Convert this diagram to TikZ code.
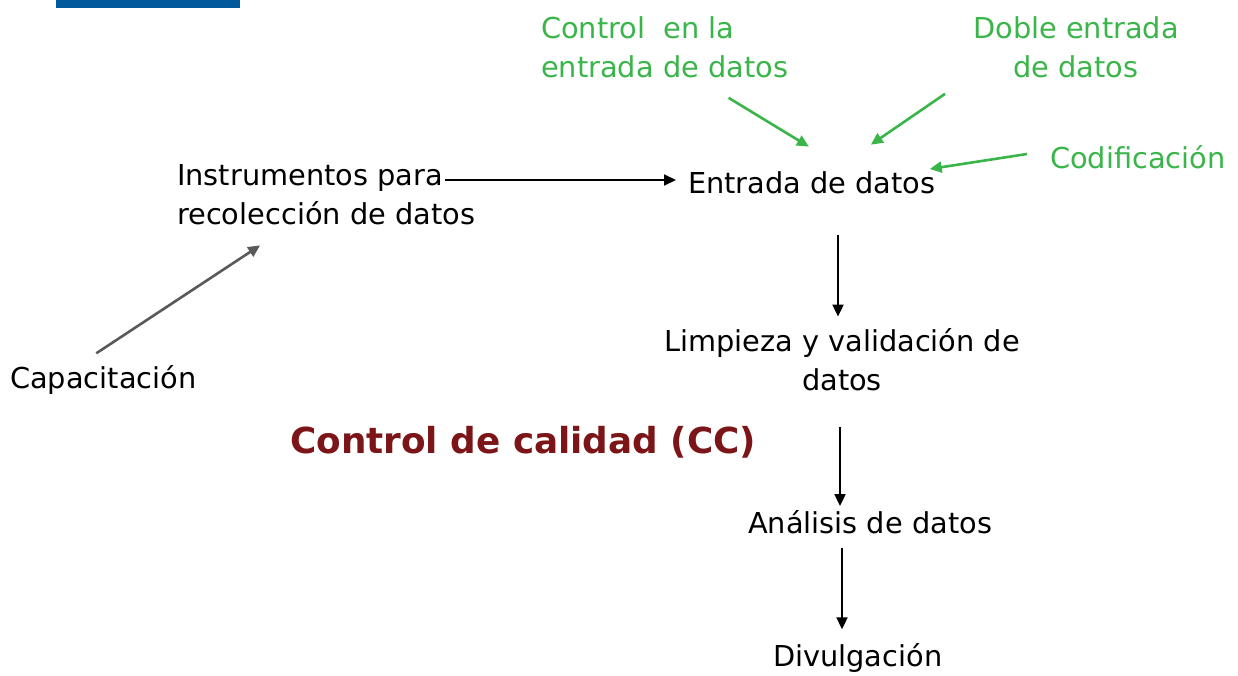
\documentclass[tikz,border=0pt]{standalone}
\usepackage{fontspec}
\setmainfont{DejaVu Sans}
\usepackage{tikz}
\usetikzlibrary{arrows.meta, calc}
\definecolor{qcink}{HTML}{000000}
\definecolor{qcgray}{HTML}{595959}
\definecolor{qcgreen}{HTML}{3AB54A}
\definecolor{qcred}{HTML}{7B1518}
\definecolor{qcblue}{HTML}{005A9C}
\tikzset{
  steplabel/.style={
    inner sep=0pt,
    text=qcink,
    font=\fontsize{28.8pt}{39pt}\selectfont
  },
  checklabel/.style={steplabel, text=qcgreen},
  titlelabel/.style={
    inner sep=0pt,
    text=qcred,
    font=\fontsize{35.8pt}{42pt}\selectfont\bfseries
  },
  flowarrow/.style={
    -{Triangle[length=12pt,width=11pt]},
    line width=2pt,
    draw=qcink
  },
  feedarrow/.style={
    -{Triangle[length=12pt,width=11pt]},
    line width=2.6pt,
    draw=qcgray
  },
  checkarrow/.style={
    -{Triangle[length=12pt,width=11pt]},
    line width=2.6pt,
    draw=qcgreen
  }
}

\begin{document}
\begin{tikzpicture}[x=1pt,y=-1pt]
\useasboundingbox (0,0) rectangle (1238,675);
\fill[qcblue] (56,0) rectangle (240,8);

\node[checklabel, align=left, anchor=west] (ctrl) at (541,47)
  {Control\ \ en la\\entrada de datos};
\node[checklabel, align=center] (doble) at (1076,47)
  {Doble entrada\\de datos};
\node[checklabel, anchor=west] (codif) at (1050,157) {Codificación};

\node[steplabel, anchor=west] (entrada) at (688,183) {Entrada de datos};
\node[steplabel, align=left, anchor=west] (instr) at (177,195)
  {Instrumentos para\\recolección de datos};
\node[steplabel, anchor=west] (capac) at (10,380) {Capacitación};
\node[steplabel, align=center] (limpieza) at (842,360)
  {Limpieza y validación de\\datos};
\node[titlelabel, anchor=west] (cc) at (290,442) {Control de calidad (CC)};
\node[steplabel, anchor=west] (analisis) at (748,522) {Análisis de datos};
\node[steplabel, anchor=west] (divulg) at (773,658) {Divulgación};

\coordinate (instrend) at (445,180);

\draw[flowarrow, shorten >=12pt] (instrend) -- (entrada.west |- instrend);
\draw[flowarrow, shorten <=41pt, shorten >=12pt]
  ([xshift=-4pt]entrada.south -| limpieza.north) -- ([xshift=-4pt]limpieza.north);
\draw[flowarrow, shorten <=36pt, shorten >=4pt]
  ([xshift=-2pt]limpieza.south) -- ([xshift=-2pt]analisis.north -| limpieza.south);
\draw[flowarrow, shorten <=14pt, shorten >=14pt]
  (analisis.south -| limpieza.south) -- (divulg.north -| limpieza.south);

\draw[feedarrow] ([xshift=-7pt,yshift=12pt]capac.north)
  -- ([xshift=-66pt,yshift=-20pt]instr.south);

\draw[checkarrow] ([xshift=64pt,yshift=-20pt]ctrl.south)
  -- ([xshift=-3pt,yshift=25pt]entrada.north);
\draw[checkarrow] ([xshift=-131pt,yshift=-16pt]doble.south)
  -- ([xshift=59pt,yshift=27pt]entrada.north);
\draw[checkarrow] ([xshift=-23pt,yshift=3pt]codif.west)
  -- ([xshift=-6pt,yshift=14pt]entrada.east);
\end{tikzpicture}
\end{document}
